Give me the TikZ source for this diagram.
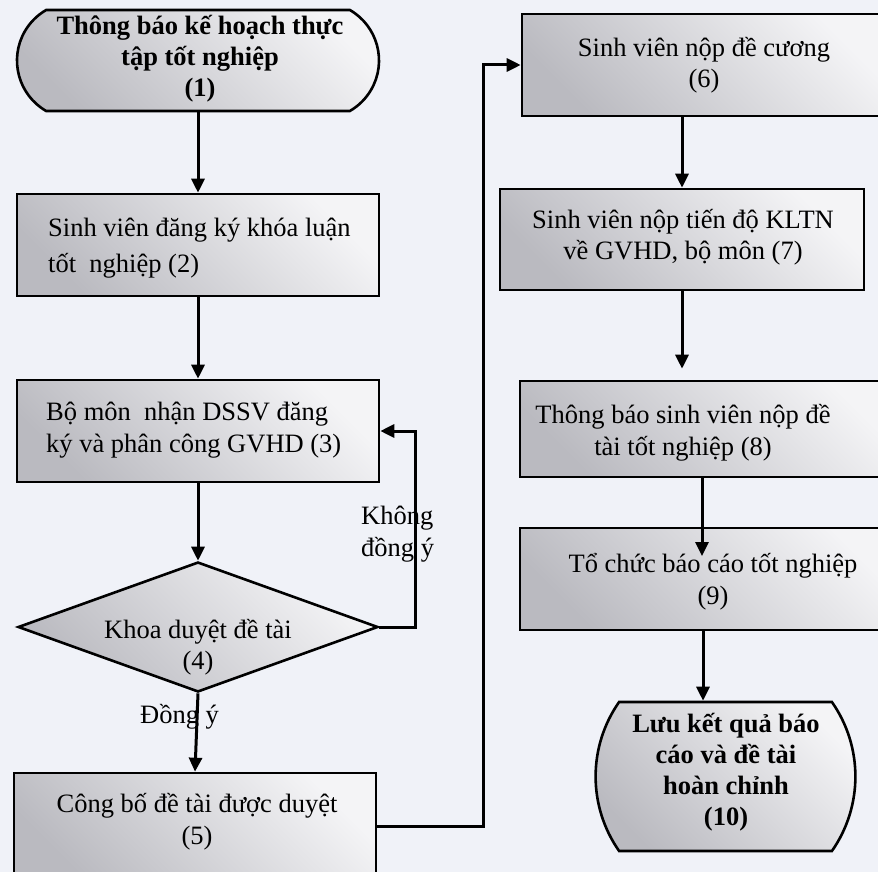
\documentclass[tikz,border=0pt]{standalone}
\usepackage{fontspec}
\setmainfont{Liberation Serif}
\usetikzlibrary{shapes.geometric,shapes.misc,arrows.meta}
\definecolor{bg}{RGB}{240,242,248}
\definecolor{fillA}{RGB}{244,244,246}
\definecolor{fillB}{RGB}{186,186,192}
\begin{document}
\begin{tikzpicture}[x=1pt,y=-1pt,
  box/.style={draw=black, line width=2.6pt, top color=fillA, bottom color=fillB, shading angle=-45, inner sep=0pt},
  txt/.style={font=\fontsize{26.5}{31.5}\selectfont, align=center, inner sep=0pt},
  txtb/.style={font=\fontsize{26.5}{31}\selectfont\bfseries, align=center, inner sep=0pt},
  conn/.style={line width=3pt, -{Triangle[length=14pt,width=13pt]}}]
\useasboundingbox (0,0) rectangle (878,872);
\fill[bg] (0,0) rectangle (878,872);
\clip (0,0) rectangle (878,872);

% boxes
\node[box, rounded rectangle, rounded rectangle arc length=120, minimum width=362pt, minimum height=101pt] (b1) at (198,60.5) {};
\node[box, minimum width=362pt, minimum height=102pt] (b2) at (198,245) {};
\node[box, minimum width=362pt, minimum height=102pt] (b3) at (198,431) {};
\node[box, diamond, minimum width=360pt, minimum height=130pt] (b4) at (198,627) {};
\node[box, minimum width=362pt, minimum height=106pt] (b5) at (195,826) {};
\node[box, minimum width=364pt, minimum height=102pt] (b6) at (704,65) {};
\node[box, minimum width=364pt, minimum height=101pt] (b7) at (682,239.5) {};
\node[box, minimum width=380pt, minimum height=96pt] (b8) at (710,429) {};
\node[box, minimum width=384pt, minimum height=102pt] (b9) at (712,579) {};
\node[box, rounded rectangle, rounded rectangle arc length=70, minimum width=239pt, minimum height=149pt] (b10) at (725.5,776.5) {};

% helper coordinates
\coordinate (fb) at (415,0);
\coordinate (rx) at (483,0);
\coordinate (tip9) at (702,556);
\coordinate (c9) at (703,0);

% connectors
\draw[conn] (b1.south) -- (b2.north);
\draw[conn] (b2.south) -- (b3.north);
\draw[conn] (b3.south) -- (b4.north);
\draw[conn] (b4.south) -- (b5.north);
\draw[conn] (b4.east) -- (b4.east -| fb) -- (fb |- b3.east) -- (b3.east);
\draw[conn] (b5.east) -- (b5.east -| rx) -- (rx |- b6.west) -- (b6.west);
\draw[conn] (b7.north |- b6.south) -- (b7.north);
\draw[conn] (b7.south) -- ([yshift=11pt]b7.south |- b8.north);
\draw[conn] (tip9 |- b8.south) -- (tip9);
\draw[conn] (c9 |- b9.south) -- (c9 |- b10.north);

% texts
\node[txtb] (t1) at (200,59) {Thông báo kế hoạch thực\\tập tốt nghiệp\\(1)};
\node[txt, anchor=west, align=left] (t2) at (48,248) {Sinh viên đăng ký khóa luận\\[4.5pt]tốt\ \ nghiệp (2)};
\node[txt, anchor=west, align=left] (t3) at (46,430) {Bộ môn\ \ nhận DSSV đăng\\ký và phân công GVHD (3)};
\node[txt] (t4) at (198,647) {Khoa duyệt đề tài\\(4)};
\node[txt, anchor=west] (yes) at (140,717) {Đồng ý};
\node[txt, anchor=west, align=left] (no) at (361,534) {Không\\đồng ý};
\node[txt] (t5) at (197,821.5) {Công bố đề tài được duyệt\\(5)};
\node[txt] (t6) at (704,65) {Sinh viên nộp đề cương\\(6)};
\node[txt] (t7) at (683,237) {Sinh viên nộp tiến độ KLTN\\về GVHD, bộ môn (7)};
\node[txt] (t8) at (683,433) {Thông báo sinh viên nộp đề\\tài tốt nghiệp (8)};
\node[txt] (t9) at (713,581.5) {Tổ chức báo cáo tốt nghiệp\\(9)};
\node[txtb] (t10) at (726,772) {Lưu kết quả báo\\cáo và đề tài\\hoàn chỉnh\\(10)};
\end{tikzpicture}
\end{document}
